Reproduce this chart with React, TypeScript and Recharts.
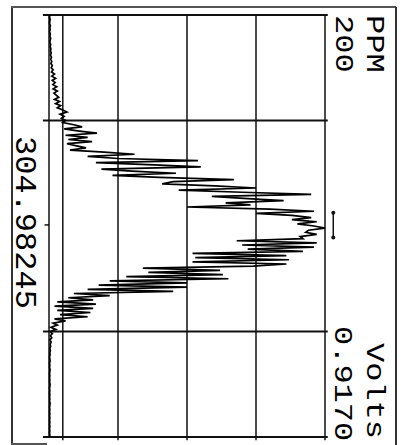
import { LineChart, Line, XAxis, YAxis, ReferenceLine, ReferenceDot } from 'recharts';

// signal amplitude, % of full scale (0.9170 V), one sample per ppm step, top to bottom
const signal = [
  0.3, 0.2, 0.4, 0.3, 0.2, 0.5, 0.3, 0.4, 0.2, 0.5, 0.3, 0.6, 0.4, 0.3, 0.6, 0.4, 0.7, 0.5, 0.8, 0.5,
  0.9, 0.6, 1.0, 0.7, 1.2, 0.8, 1.5, 0.9, 2.0, 1.0, 2.4, 1.2, 2.2, 1.4, 2.8, 1.5, 3.0, 1.8, 2.6, 3.5,
  2.0, 3.8, 2.4, 4.2, 3.0, 5.0, 6.5, 4.0, 5.5, 4.5, 6.0, 5.0, 9.0, 12, 5.5, 11, 17.4, 6, 14, 7,
  15.6, 6.5, 10, 13.4, 7.6, 20, 31, 14, 25, 54, 17, 38, 55, 19, 30, 46, 23, 40, 67, 45,
  41, 60, 75, 47, 70, 95, 59, 72, 85, 64, 73, 50, 80, 96, 75, 88, 95, 88, 97, 90,
  96, 100, 94, 93, 97, 91, 92, 68, 97, 70, 96, 72, 92, 52, 86, 53, 87, 52, 86, 74,
  34, 62, 36, 63, 28, 65, 22, 50, 18, 50, 14, 45, 9, 22, 7, 16, 3, 17, 2, 16,
  3, 15, 4, 14, 2, 6, 1.5, 3, 0.7, 2.5, 0.4, 1.2, 0.5, 1.0, 0.3, 0.8, 0.4, 0.6, 0.3, 0.5,
  0.3, 0.4, 0.2, 0.3, 0.4, 0.2, 0.3, 0.2, 0.4, 0.3, 0.2, 0.3, 0.2, 0.3, 0.2, 0.4, 0.3, 0.2, 0.3, 0.2,
  0.3, 0.2, 0.3, 0.2, 0.4, 0.3, 0.2, 0.3, 0.2, 0.3, 0.2, 0.3, 0.2, 0.3, 0.2, 0.3, 0.2, 0.3, 0.2, 0.3,
  0.2,
];

const PPM_SPAN = 200;
const PPM_STEP = 1;
const ampGrid = [5, 25, 50, 75, 100];
const ppmGrid = [0, 50, 150, 200];
const marker = { amp: 103, from: 93.7, to: 105.5 };

const data = signal.map((v, i) => ({ ppm: i * PPM_STEP, v }));

const ink = '#111';

const label = (left: number, top: number, s: number) => ({
  position: 'absolute' as const,
  left,
  top,
  fontFamily: '"Liberation Mono", "DejaVu Sans Mono", monospace',
  fontSize: 32,
  lineHeight: '32px',
  whiteSpace: 'nowrap' as const,
  color: '#000',
  transform: `rotate(90deg) scaleY(${s})`,
  transformOrigin: '0 0',
});

export default function App() {
  return (
    <div style={{ position: 'fixed', left: 0, top: 0, width: 402, height: 445, background: '#fff', overflow: 'hidden' }}>
      {/* outer frame */}
      <div style={{ position: 'absolute', left: 11, top: 6, width: 1.5, height: 439, background: '#333' }} />
      <div style={{ position: 'absolute', left: 11, top: 6, width: 385, height: 1.5, background: '#555' }} />
      <div style={{ position: 'absolute', left: 395, top: 7, width: 1.5, height: 438, background: '#333' }} />
      <div style={{ position: 'absolute', left: 11, top: 443, width: 36, height: 1.5, background: '#555' }} />

      <LineChart
        layout="vertical"
        width={402}
        height={445}
        data={data}
        margin={{ top: 15, right: 77, bottom: 8, left: 49 }}
        style={{ position: 'absolute', left: 0, top: 0 }}
      >
        <XAxis type="number" domain={[0, 100]} hide />
        <YAxis type="number" dataKey="ppm" domain={[0, PPM_SPAN]} hide />
        {ampGrid.map((a) => (
          <ReferenceLine
            key={'a' + a}
            segment={[{ x: a, y: 0 }, { x: a, y: 201.5 }]}
            stroke={ink}
            strokeWidth={1.5}
            ifOverflow="visible"
          />
        ))}
        <ReferenceLine segment={[{ x: 0, y: 0 }, { x: 0, y: 200 }]} stroke={ink} strokeWidth={1.5} ifOverflow="visible" />
        {ppmGrid.map((p) => (
          <ReferenceLine
            key={'p' + p}
            segment={[{ x: -2.2, y: p }, { x: 101, y: p }]}
            stroke={ink}
            strokeWidth={2}
            ifOverflow="visible"
          />
        ))}
        <ReferenceLine segment={[{ x: -1.6, y: 99.5 }, { x: 0, y: 99.5 }]} stroke={ink} strokeWidth={1.5} ifOverflow="visible" />
        <Line
          dataKey="v"
          type="linear"
          stroke="#000"
          strokeWidth={1.7}
          dot={false}
          isAnimationActive={false}
        />
        <ReferenceLine
          segment={[{ x: marker.amp, y: marker.from }, { x: marker.amp, y: marker.to }]}
          stroke={ink}
          strokeWidth={1.5}
          ifOverflow="visible"
        />
        <ReferenceDot x={marker.amp} y={marker.from} r={2} fill={ink} stroke="none" ifOverflow="visible" />
        <ReferenceDot x={marker.amp} y={marker.to} r={2} fill={ink} stroke="none" ifOverflow="visible" />
      </LineChart>

      <div style={label(386, 15, 0.8)}>PPM</div>
      <div style={label(355, 15, 0.8)}>200</div>
      <div style={label(386, 343, 0.8)}>Volts</div>
      <div style={label(354, 326, 0.8)}>0.9170</div>
      <div style={label(38, 136, 0.9)}>304.98245</div>
    </div>
  );
}
